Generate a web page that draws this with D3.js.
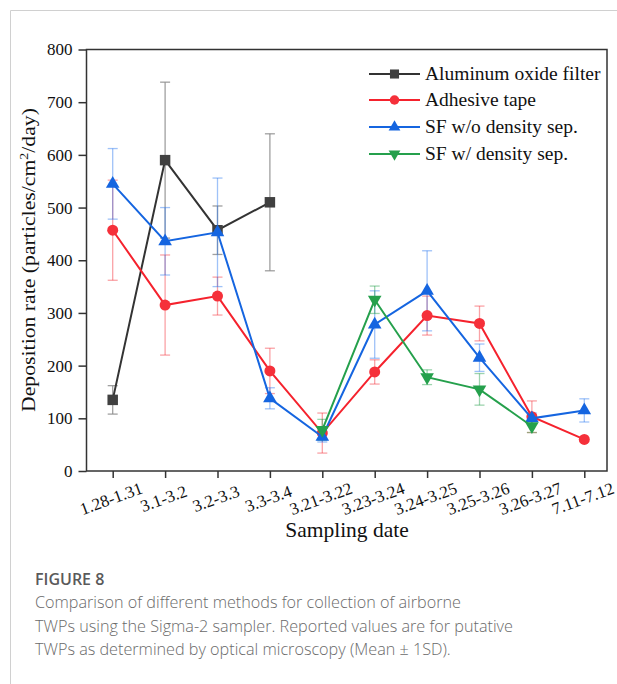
<!DOCTYPE html>
<html>
<head>
<meta charset="utf-8">
<script src="https://cdn.jsdelivr.net/npm/d3@7"></script>
<style>
  body { margin: 0; background: #fff; }
  svg { display: block; }
</style>
</head>
<body>
<div id="chart"></div>
<script>
// sampling dates on the x axis
var dates = ["1.28-1.31", "3.1-3.2", "3.2-3.3", "3.3-3.4", "3.21-3.22",
  "3.23-3.24", "3.24-3.25", "3.25-3.26", "3.26-3.27", "7.11-7.12"];

var yTicks = [0, 100, 200, 300, 400, 500, 600, 700, 800];

// mean deposition rates (null = not sampled)
var aluminumMean = [135, 590, 457, 510, null, null, null, null, null, null];
var aluminumSD = [27, 148, 46, 130, null, null, null, null, null, null];

var tapeMean = [457, 315, 332, 190, 72, 188, 295, 280, 103, 60];
var tapeSD = [95, 95, 36, 43, 38, 23, 37, 33, 30, null];

var sfNoSepMean = [545, 436, 453, 138, 65, 278, 342, 215, 100, 115];
var sfNoSepSD = [67, 64, 103, 20, 10, 64, 76, 26, 10, 22];

var sfSepMean = [null, null, null, null, 78, 325, 178, 155, 85, null];
var sfSepSD = [null, null, null, null, 20, 26, 14, 30, 12, null];

var seriesNames = ["Aluminum oxide filter", "Adhesive tape", "SF w/o density sep.", "SF w/ density sep."];

var captionTitle = "FIGURE 8";
var captionLines = [
  "Comparison of different methods for collection of airborne",
  "TWPs using the Sigma-2 sampler. Reported values are for putative",
  "TWPs as determined by optical microscopy (Mean \u00B1 1SD)."
];

//constructor
function DepositionChart(_series) {
  var vis = this;
  vis.series = _series;
  vis.init();
}

//set up svg, scales and frame
DepositionChart.prototype.init = function() {
  var vis = this;
  vis.width = 617;
  vis.height = 684;
  vis.frame = { left: 86.5, right: 607, top: 49.5, bottom: 471 };

  vis.svg = d3.select("#chart").append("svg")
    .attr("width", vis.width)
    .attr("height", vis.height);

  //page border lines
  vis.svg.append("path")
    .attr("d", "M10.5," + vis.height + "V10.5H" + vis.width)
    .attr("fill", "none")
    .attr("stroke", "#d0d0d0")
    .attr("stroke-width", 1);

  vis.x = d3.scalePoint()
    .domain(dates)
    .range([112.7, 584.3]);

  vis.y = d3.scaleLinear()
    .domain([0, 800])
    .range([vis.frame.bottom, vis.frame.top]);

  vis.update();
};

//draw everything
DepositionChart.prototype.update = function() {
  var vis = this;
  var f = vis.frame;
  var serif = "Liberation Serif, Times New Roman, serif";

  //y axis
  var yAxis = vis.svg.append("g")
    .attr("transform", "translate(" + f.left + ",0)")
    .call(d3.axisLeft(vis.y).tickValues(yTicks).tickSize(8).tickPadding(6))
    .attr("font-family", serif)
    .attr("font-size", 17);
  yAxis.select(".domain").remove();
  yAxis.selectAll("line").attr("stroke", "#333").attr("stroke-width", 1.5);
  yAxis.selectAll("text").attr("fill", "#111");

  //x axis
  var xAxis = vis.svg.append("g")
    .attr("transform", "translate(0," + f.bottom + ")")
    .call(d3.axisBottom(vis.x).tickSize(7).tickPadding(0))
    .attr("font-family", serif)
    .attr("font-size", 17);
  xAxis.select(".domain").remove();
  xAxis.selectAll("line").attr("stroke", "#333").attr("stroke-width", 1.5);
  xAxis.selectAll("text")
    .attr("fill", "#111")
    .attr("text-anchor", "middle")
    .attr("dy", null)
    .attr("y", 0)
    .attr("transform", "translate(0,33) rotate(-20)");

  //plot frame
  vis.svg.append("rect")
    .attr("x", f.left)
    .attr("y", f.top)
    .attr("width", f.right - f.left)
    .attr("height", f.bottom - f.top)
    .attr("fill", "none")
    .attr("stroke", "#333")
    .attr("stroke-width", 1.5);

  //axis titles (y title stretched to the length of the original)
  vis.svg.append("text")
    .attr("transform", "translate(35,260) rotate(-90)")
    .attr("text-anchor", "middle")
    .attr("font-family", serif)
    .attr("font-size", 19.5)
    .attr("fill", "#111")
    .attr("textLength", 304)
    .attr("lengthAdjust", "spacingAndGlyphs")
    .html("Deposition rate (particles/cm<tspan dy='-7' font-size='12.5'>2</tspan><tspan dy='7'>/day)</tspan>");

  vis.svg.append("text")
    .attr("x", 347)
    .attr("y", 537)
    .attr("text-anchor", "middle")
    .attr("font-family", serif)
    .attr("font-size", 21.5)
    .attr("fill", "#111")
    .text("Sampling date");

  //error bars under all lines
  vis.series.forEach(function(s) {
    var pts = dates.map(function(d, i) {
      return { date: d, mean: s.mean[i], sd: s.sd[i] };
    }).filter(function(p) { return p.mean != null && p.sd != null; });

    var g = vis.svg.append("g")
      .attr("stroke", s.errColor)
      .attr("stroke-opacity", s.errOpacity)
      .attr("stroke-width", 1.3);
    pts.forEach(function(p) {
      var cx = vis.x(p.date);
      var top = vis.y(p.mean + p.sd);
      var bot = vis.y(p.mean - p.sd);
      g.append("line").attr("x1", cx).attr("x2", cx).attr("y1", top).attr("y2", bot);
      g.append("line").attr("x1", cx - 5).attr("x2", cx + 5).attr("y1", top).attr("y2", top);
      g.append("line").attr("x1", cx - 5).attr("x2", cx + 5).attr("y1", bot).attr("y2", bot);
    });
  });

  //lines and markers
  var line = d3.line()
    .defined(function(p) { return p.mean != null; })
    .x(function(p) { return vis.x(p.date); })
    .y(function(p) { return vis.y(p.mean); });

  vis.series.forEach(function(s) {
    var pts = dates.map(function(d, i) {
      return { date: d, mean: s.mean[i] };
    });
    vis.svg.append("path")
      .datum(pts)
      .attr("d", line)
      .attr("fill", "none")
      .attr("stroke", s.color)
      .attr("stroke-width", 2);

    vis.svg.selectAll(null)
      .data(pts.filter(function(p) { return p.mean != null; }))
      .enter().append("path")
      .attr("d", d3.symbol().type(s.symbol).size(s.size))
      .attr("transform", function(p) {
        return "translate(" + vis.x(p.date) + "," + vis.y(p.mean) + ")" + (s.flip ? " rotate(180)" : "");
      })
      .attr("fill", s.fill);
  });

  //legend
  var legendRows = [74, 100, 127, 154];
  vis.series.forEach(function(s, i) {
    var ly = legendRows[i];
    vis.svg.append("line")
      .attr("x1", 369).attr("x2", 420)
      .attr("y1", ly).attr("y2", ly)
      .attr("stroke", s.color)
      .attr("stroke-width", 2);
    vis.svg.append("path")
      .attr("d", d3.symbol().type(s.symbol).size(s.size * 0.75))
      .attr("transform", "translate(394.5," + ly + ")" + (s.flip ? " rotate(180)" : ""))
      .attr("fill", s.fill);
    vis.svg.append("text")
      .attr("x", 425)
      .attr("y", ly + 6)
      .attr("font-family", serif)
      .attr("font-size", 19.5)
      .attr("fill", "#111")
      .text(s.name);
  });

  //caption
  var sans = "Open Sans, Noto Sans, sans-serif";
  vis.svg.append("text")
    .attr("x", 35)
    .attr("y", 585)
    .attr("font-family", sans)
    .attr("font-size", 16)
    .attr("font-weight", 600)
    .attr("fill", "#5a5a5a")
    .text(captionTitle);

  captionLines.forEach(function(t, i) {
    vis.svg.append("text")
      .attr("x", 35)
      .attr("y", 608 + i * 23.5)
      .attr("font-family", sans)
      .attr("font-size", 16.2)
      .attr("font-weight", 300)
      .attr("fill", "#6a6a6a")
      .text(t);
  });
};

var series = [
  { name: seriesNames[0], mean: aluminumMean, sd: aluminumSD, color: "#333333", fill: "#404040",
    errColor: "#888888", errOpacity: 0.8, symbol: d3.symbolSquare, size: 110, flip: false },
  { name: seriesNames[1], mean: tapeMean, sd: tapeSD, color: "#f5222d", fill: "#f5303a",
    errColor: "#f5303a", errOpacity: 0.45, symbol: d3.symbolCircle, size: 95, flip: false },
  { name: seriesNames[2], mean: sfNoSepMean, sd: sfNoSepSD, color: "#1565e0", fill: "#1565e0",
    errColor: "#2a78f0", errOpacity: 0.45, symbol: d3.symbolTriangle, size: 80, flip: false },
  { name: seriesNames[3], mean: sfSepMean, sd: sfSepSD, color: "#25a04c", fill: "#25a04c",
    errColor: "#25a04c", errOpacity: 0.45, symbol: d3.symbolTriangle, size: 80, flip: true }
];

var chart = new DepositionChart(series);
</script>
</body>
</html>
